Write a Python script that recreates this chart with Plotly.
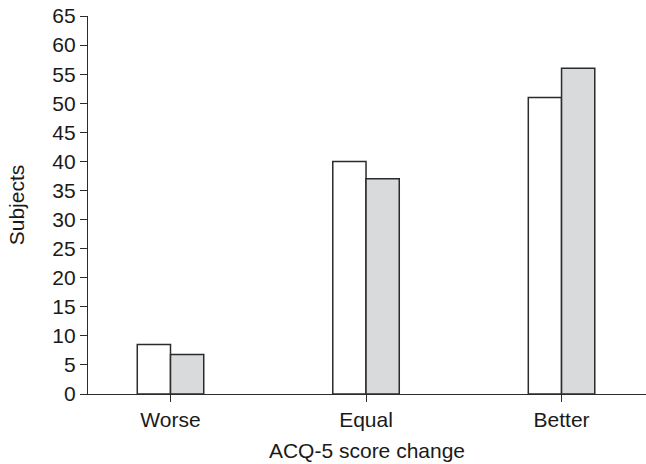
import plotly.graph_objects as go

categories = ["Worse", "Equal", "Better"]
group_a = [8.5, 40, 51]
group_b = [6.8, 37, 56]
y_ticks = list(range(0, 70, 5))

line_col = "#2b2b2b"
font = dict(family="Liberation Sans, Arial, sans-serif", size=21, color="#1a1a1a")

fig = go.Figure()
fig.add_trace(go.Bar(x=categories, y=group_a, marker=dict(color="white", line=dict(color=line_col, width=1.5)), showlegend=False))
fig.add_trace(go.Bar(x=categories, y=group_b, marker=dict(color="#d9dadc", line=dict(color=line_col, width=1.5)), showlegend=False))

fig.update_layout(
    width=646, height=464,
    margin=dict(l=88, r=0, t=16, b=70),
    paper_bgcolor="white", plot_bgcolor="white",
    barmode="group", bargap=0.66, bargroupgap=0,
    font=font,
    xaxis=dict(
        type="category", range=[-0.422, 2.432],
        showline=True, linecolor=line_col, linewidth=1.2,
        ticks="outside", ticklen=7, tickcolor=line_col, tickwidth=1.2,
        showgrid=False, zeroline=False,
        title=dict(text="ACQ-5 score change", standoff=13, font=font),
        tickfont=font,
    ),
    yaxis=dict(
        range=[0, 65], tickvals=y_ticks,
        showline=True, linecolor=line_col, linewidth=1.2,
        ticks="outside", ticklen=7, tickcolor=line_col, tickwidth=1.2,
        showgrid=False, zeroline=False,
        title=dict(text="Subjects", standoff=21, font=font),
        tickfont=font,
    ),
)

fig.write_html("out.html")
